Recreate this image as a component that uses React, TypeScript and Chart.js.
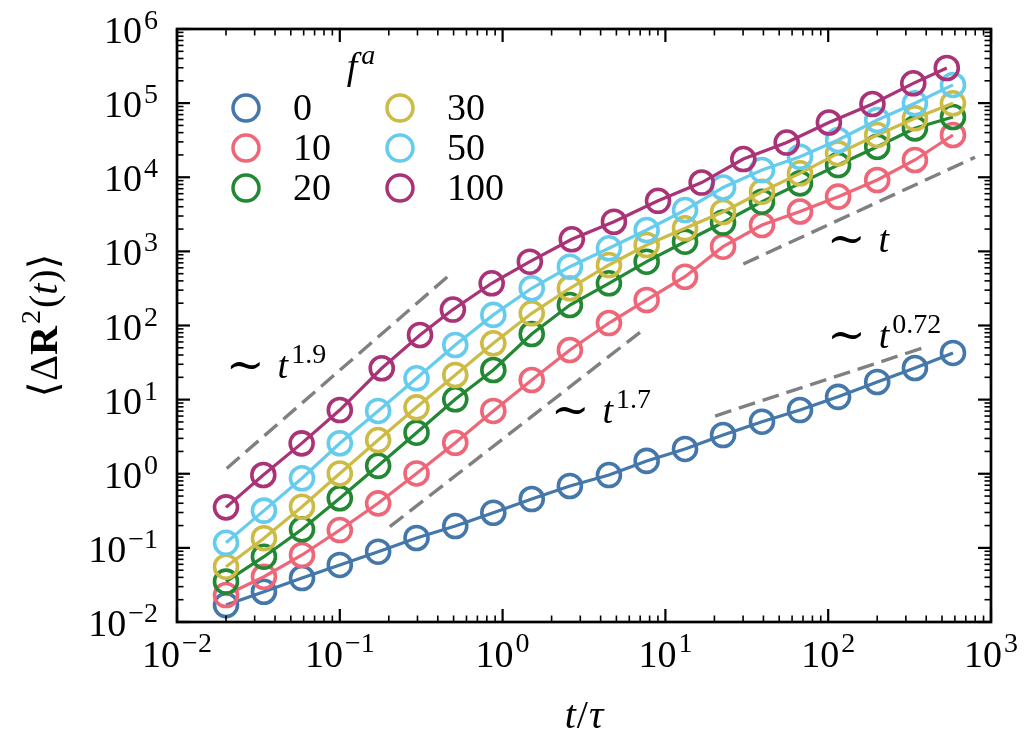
import { useEffect, useRef } from 'react'
import { Chart, registerables } from 'chart.js'

Chart.register(...registerables)

const fLabels = ['0', '10', '20', '30', '50', '100']
const colors = ['#4477AA', '#EE6677', '#228833', '#CCBB44', '#66CCEE', '#AA3377']

// lag times (f^a = 100 sits on its own grid)
const tMain = [0.02, 0.0342, 0.0586, 0.1, 0.172, 0.296, 0.512, 0.877, 1.51, 2.59, 4.5, 7.67, 13.2, 22.6, 39.2, 67.1, 115, 200, 341, 584]
const tF100 = [0.02, 0.0339, 0.0583, 0.1, 0.181, 0.311, 0.495, 0.857, 1.47, 2.66, 4.83, 9.01, 16.7, 30.1, 55.6, 101, 187, 333, 535]

// <ΔR²(t)> per active force
const msdF0 = [0.0169, 0.0256, 0.0392, 0.0588, 0.0888, 0.136, 0.197, 0.298, 0.456, 0.684, 0.96, 1.49, 2.16, 3.33, 5.04, 7.24, 10.9, 17.3, 26.7, 42.6]
const msdF10 = [0.0231, 0.0408, 0.0802, 0.174, 0.399, 1.01, 2.62, 7.03, 18.4, 46.7, 108, 221, 455, 1156, 2270, 3450, 5470, 9180, 17100, 37150]
const msdF20 = [0.035, 0.076, 0.178, 0.467, 1.28, 3.58, 10.1, 25.1, 76.8, 189, 371, 726, 1350, 2450, 4680, 8280, 14600, 25800, 45700, 65000]
const msdF30 = [0.0557, 0.135, 0.359, 1.01, 2.85, 7.87, 21.5, 57.5, 146, 318, 655, 1220, 2050, 3400, 6380, 11300, 21000, 37200, 62400, 99500]
const msdF50 = [0.117, 0.318, 0.869, 2.58, 7.03, 19.4, 54.6, 139, 318, 621, 1100, 1940, 3610, 7270, 12500, 18900, 31800, 59200, 99500, 176000]
const msdF100 = [0.352, 0.962, 2.57, 7.24, 26.5, 74.5, 164, 371, 726, 1455, 2512, 4810, 8490, 17600, 29400, 54800, 97300, 185000, 298000]

const seriesT = [tMain, tMain, tMain, tMain, tMain, tF100]
const seriesMsd = [msdF0, msdF10, msdF20, msdF30, msdF50, msdF100]

// power-law guides (end points)
const guideT = [[0.0202, 0.498], [0.203, 6.98], [30.1, 798], [20.2, 403]]
const guideMsd = [[1.18, 532], [0.193, 80.9], [676, 18600], [6.01, 51.8]]
const guideExp = ['1.9', '1.7', '', '0.72']
// where the "~ t^a" labels start (left, baseline)
const noteT = [0.0203, 2.01, 99.8, 100]
const noteMsd = [19.6, 4.84, 981, 49.7]

const xMajor = [1e-2, 1e-1, 1, 1e1, 1e2, 1e3]
const xTickExp = ['\u22122', '\u22121', '0', '1', '2', '3']
const yMajor = [1e-2, 1e-1, 1, 1e1, 1e2, 1e3, 1e4, 1e5, 1e6]
const yTickExp = ['\u22122', '\u22121', '0', '1', '2', '3', '4', '5', '6']

const FONT = '"Liberation Serif", "DejaVu Serif", serif'
const MAIN = `38px ${FONT}`
const SUP = `28px ${FONT}`
const ITAL = `italic 38px ${FONT}`
const TITLE = `40px ${FONT}`
const TITLE_I = `italic 40px ${FONT}`
const TITLE_B = `bold 40px ${FONT}`
const TILDE = `46px "DejaVu Serif", serif`

type Piece = { s: string; font: string; dy?: number; gap?: number }

function drawRich(ctx: CanvasRenderingContext2D, pieces: Piece[], x: number, y: number, align: 'left' | 'center' | 'right') {
  let total = 0
  const ws = pieces.map(p => {
    ctx.font = p.font
    const w = ctx.measureText(p.s).width + (p.gap || 0)
    total += w
    return w
  })
  let cx = align === 'center' ? x - total / 2 : align === 'right' ? x - total : x
  pieces.forEach((p, i) => {
    ctx.font = p.font
    ctx.fillText(p.s, cx + (p.gap || 0), y + (p.dy || 0))
    cx += ws[i]
  })
}

const decor = {
  id: 'decor',
  afterDraw(chart: any) {
    const { ctx, chartArea: a } = chart
    const xs = chart.scales.x
    const ys = chart.scales.y
    ctx.save()
    ctx.fillStyle = '#000'
    ctx.strokeStyle = '#000'
    ctx.textAlign = 'left'
    ctx.textBaseline = 'alphabetic'

    const seg = (x1: number, y1: number, x2: number, y2: number, w: number) => {
      ctx.lineWidth = w
      ctx.beginPath()
      ctx.moveTo(x1, y1)
      ctx.lineTo(x2, y2)
      ctx.stroke()
    }
    const minors = (m: number[]) => m.slice(0, -1).flatMap(d => [2, 3, 4, 5, 6, 7, 8, 9].map(k => k * d))

    // inward ticks on all four sides
    xMajor.forEach(v => {
      const p = xs.getPixelForValue(v)
      seg(p, a.bottom, p, a.bottom - 13, 2.2)
      seg(p, a.top, p, a.top + 13, 2.2)
    })
    minors(xMajor).forEach(v => {
      const p = xs.getPixelForValue(v)
      seg(p, a.bottom, p, a.bottom - 6.5, 1.6)
      seg(p, a.top, p, a.top + 6.5, 1.6)
    })
    yMajor.forEach(v => {
      const p = ys.getPixelForValue(v)
      seg(a.left, p, a.left + 13, p, 2.2)
      seg(a.right, p, a.right - 13, p, 2.2)
    })
    minors(yMajor).forEach(v => {
      const p = ys.getPixelForValue(v)
      seg(a.left, p, a.left + 6.5, p, 1.6)
      seg(a.right, p, a.right - 6.5, p, 1.6)
    })
    ctx.lineWidth = 2.7
    ctx.strokeRect(a.left, a.top, a.right - a.left, a.bottom - a.top)

    // tick labels 10^n
    xMajor.forEach((v, i) => {
      drawRich(ctx, [{ s: '10', font: MAIN }, { s: xTickExp[i], font: SUP, dy: -15, gap: 2 }], xs.getPixelForValue(v), a.bottom + 45, 'center')
    })
    yMajor.forEach((v, i) => {
      drawRich(ctx, [{ s: '10', font: MAIN }, { s: yTickExp[i], font: SUP, dy: -14, gap: 2 }], a.left - 19, ys.getPixelForValue(v) + 14, 'right')
    })

    // axis titles
    drawRich(ctx, [{ s: 't', font: TITLE_I }, { s: '/', font: TITLE, gap: 1 }, { s: '\u03C4', font: TITLE_I, gap: 1 }], (a.left + a.right) / 2, a.bottom + 106, 'center')
    ctx.save()
    ctx.translate(57, (a.top + a.bottom) / 2)
    ctx.rotate(-Math.PI / 2)
    drawRich(ctx, [
      { s: '\u27E8', font: TITLE },
      { s: '\u0394', font: TITLE, gap: 1 },
      { s: 'R', font: TITLE_B },
      { s: '2', font: SUP, dy: -17, gap: 2 },
      { s: '(', font: TITLE, gap: 2 },
      { s: 't', font: TITLE_I },
      { s: ')', font: TITLE, gap: 1 },
      { s: '\u27E9', font: TITLE },
    ], 0, 0, 'center')
    ctx.restore()

    // power-law notes
    noteT.forEach((t, i) => {
      const px = xs.getPixelForValue(t)
      const py = ys.getPixelForValue(noteMsd[i])
      const parts: Piece[] = [{ s: '\u223C', font: TILDE, dy: 2 }, { s: 't', font: ITAL, gap: 13 }]
      if (guideExp[i]) parts.push({ s: guideExp[i], font: SUP, dy: -15, gap: 3 })
      drawRich(ctx, parts, px - 1, py, 'left')
    })

    // legend: two columns, three rows
    drawRich(ctx, [{ s: 'f', font: ITAL }, { s: 'a', font: `italic 28px ${FONT}`, dy: -15, gap: 4 }], a.left + 184, a.top + 50, 'center')
    fLabels.forEach((lab, i) => {
      const col = Math.floor(i / 3)
      const row = i % 3
      const cx = a.left + 69 + col * 154
      const cy = a.top + 79 + row * 40
      ctx.lineWidth = 3.5
      ctx.strokeStyle = colors[i]
      ctx.beginPath()
      ctx.arc(cx, cy, 13, 0, Math.PI * 2)
      ctx.stroke()
      ctx.font = MAIN
      ctx.fillText(lab, cx + 47, cy + 12)
    })
    ctx.restore()
  },
}

export default function App() {
  const canvasRef = useRef<HTMLCanvasElement>(null)
  const chartRef = useRef<Chart | null>(null)

  useEffect(() => {
    if (!canvasRef.current) return
    if (chartRef.current) chartRef.current.destroy()

    const dataSets: any[] = seriesMsd.map((msd, i) => ({
      label: fLabels[i],
      data: msd.map((m, j) => ({ x: seriesT[i][j], y: m })),
      showLine: true,
      borderColor: colors[i],
      borderWidth: 3.2,
      pointRadius: 11.5,
      pointHoverRadius: 11.5,
      pointBorderWidth: 3.6,
      pointBorderColor: colors[i],
      pointBackgroundColor: 'rgba(0,0,0,0)',
      order: 6 - i,
    }))
    guideT.forEach((ts, i) => {
      dataSets.push({
        label: 'guide' + i,
        data: ts.map((t, j) => ({ x: t, y: guideMsd[i][j] })),
        showLine: true,
        borderColor: '#808080',
        borderWidth: 3.4,
        borderDash: [17, 8],
        pointRadius: 0,
        order: 0,
      })
    })

    chartRef.current = new Chart(canvasRef.current, {
      type: 'scatter',
      data: { datasets: dataSets },
      options: {
        animation: false,
        responsive: true,
        maintainAspectRatio: false,
        events: [],
        layout: { padding: { left: 177, right: 44, top: 29, bottom: 126 } },
        plugins: { legend: { display: false }, tooltip: { enabled: false } },
        scales: {
          x: { type: 'logarithmic', min: 0.01, max: 1000, display: false },
          y: { type: 'logarithmic', min: 0.01, max: 1e6, display: false },
        },
      },
      plugins: [decor],
    })

    return () => {
      if (chartRef.current) {
        chartRef.current.destroy()
        chartRef.current = null
      }
    }
  }, [])

  return (
    <div style={{ position: 'absolute', left: 0, top: 0, width: 1035, height: 748, background: '#fff' }}>
      <canvas ref={canvasRef} />
    </div>
  )
}
